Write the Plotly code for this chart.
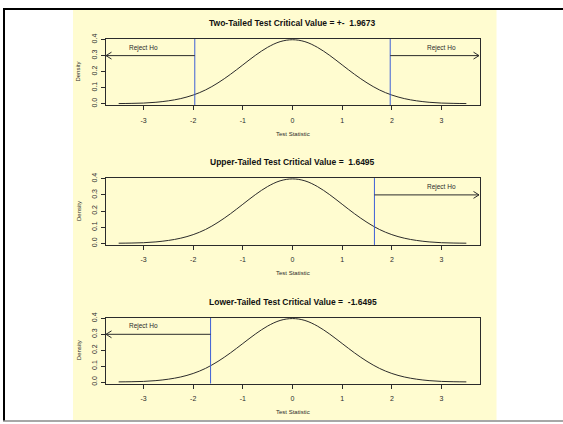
import plotly.graph_objects as go
from plotly.subplots import make_subplots

# ---- data ----
x_vals = [-3.5, -3.25, -3.0, -2.75, -2.5, -2.25, -2.0, -1.75, -1.5, -1.25, -1.0, -0.75, -0.5, -0.25,
          0.0, 0.25, 0.5, 0.75, 1.0, 1.25, 1.5, 1.75, 2.0, 2.25, 2.5, 2.75, 3.0, 3.25, 3.5]
density = [0.001, 0.002, 0.004, 0.009, 0.018, 0.032, 0.054, 0.086, 0.130, 0.183, 0.242, 0.301, 0.352, 0.387,
           0.399, 0.387, 0.352, 0.301, 0.242, 0.183, 0.130, 0.086, 0.054, 0.032, 0.018, 0.009, 0.004, 0.002, 0.001]

titles = ["Two-Tailed Test Critical Value = +-\u00a0 1.9673",
          "Upper-Tailed Test Critical Value =\u00a0 1.6495",
          "Lower-Tailed Test Critical Value =\u00a0 -1.6495"]
# critical values per panel and reject direction (+1 right, -1 left)
crit_lines = [[-1.9673, 1.9673], [1.6495], [-1.6495]]
reject_dirs = [[-1, 1], [1], [-1]]
reject_label = "Reject Ho"
arrow_y = 0.3
label_y = 0.35
label_x = 3.0

x_ticks = [-3, -2, -1, 0, 1, 2, 3]
x_ticktext = ["-3", "-2", "-1", "0", "1", "2", "3"]
y_ticks = [0.0, 0.1, 0.2, 0.3, 0.4]
y_ticktext = ["0.0", "0.1", "0.2", "0.3", "0.4"]
x_title = "Test Statistic"
y_title = "Density"

W, H = 563, 424
XR = [-3.765, 3.765]
YR = [-0.010, 0.404]
YELLOW = "#FFFCD0"
INK = "#2b2b2b"
BLUE = "#3d5fd6"
FONT = "Liberation Sans, Arial, sans-serif"

# panel boxes in pixels (top, bottom)
boxes = [(34.5, 102.0), (176.0, 244.0), (318.0, 385.0)]
box_l, box_r = 105.5, 479.5

fig = make_subplots(rows=3, cols=1)

def py(p):
    return 1 - p / H

def pxx(p):
    return p / W

ax_px = (box_r - box_l) / (XR[1] - XR[0])
for i, (t, b) in enumerate(boxes):
    r = i + 1
    yr_px = (b - t) / (YR[1] - YR[0])
    fig.add_trace(go.Scatter(x=x_vals, y=density, mode="lines", line=dict(color=INK, width=1, shape="spline"),
                             showlegend=False, hoverinfo="skip"), row=r, col=1)
    for c, d in zip(crit_lines[i], reject_dirs[i]):
        fig.add_trace(go.Scatter(x=[c, c], y=YR, mode="lines", line=dict(color=BLUE, width=1),
                                 showlegend=False, hoverinfo="skip"), row=r, col=1)
        end = XR[1] - 0.01 if d > 0 else XR[0] + 0.01
        fig.add_trace(go.Scatter(x=[c, end], y=[arrow_y, arrow_y], mode="lines", line=dict(color=INK, width=1),
                                 showlegend=False, hoverinfo="skip"), row=r, col=1)
        hx = 5.5 / ax_px
        hy = 3.5 / yr_px
        fig.add_trace(go.Scatter(x=[end - d * hx, end, end - d * hx], y=[arrow_y + hy, arrow_y, arrow_y - hy],
                                 mode="lines", line=dict(color=INK, width=1),
                                 showlegend=False, hoverinfo="skip"), row=r, col=1)
        fig.add_annotation(x=d * label_x, y=label_y, text=reject_label, showarrow=False,
                           xref=f"x{r}" if r > 1 else "x", yref=f"y{r}" if r > 1 else "y",
                           font=dict(size=6.5, color=INK, family=FONT), yanchor="middle")
    fig.update_xaxes(row=r, col=1, range=XR, domain=[pxx(box_l), pxx(box_r)], tickvals=x_ticks, ticktext=x_ticktext,
                     showline=True, mirror=True, linecolor=INK, linewidth=1, ticks="outside", ticklen=4,
                     tickcolor=INK, showgrid=False, zeroline=False, tickfont=dict(size=7, color=INK, family=FONT),
                     ticklabelstandoff=4)
    fig.update_yaxes(row=r, col=1, range=YR, domain=[py(b), py(t)], tickvals=y_ticks, ticktext=y_ticktext,
                     showline=True, mirror=True, linecolor=INK, linewidth=1, ticks="outside", ticklen=4,
                     tickcolor=INK, showgrid=False, zeroline=False, tickangle=-90,
                     tickfont=dict(size=7, color=INK, family=FONT), ticklabelstandoff=1)
    # title
    fig.add_annotation(x=pxx((box_l + box_r) / 2), y=py(t - 16), xref="paper", yref="paper", text=f"<b>{titles[i]}</b>",
                       showarrow=False, font=dict(size=8.5, color="#111", family=FONT), yanchor="middle")
    fig.add_annotation(x=pxx((box_l + box_r) / 2), y=py(b + 29), xref="paper", yref="paper", text=x_title,
                       showarrow=False, font=dict(size=6, color=INK, family=FONT), yanchor="middle")
    fig.add_annotation(x=pxx(78.5), y=py((t + b) / 2), xref="paper", yref="paper", text=y_title, textangle=-90,
                       showarrow=False, font=dict(size=6, color=INK, family=FONT), xanchor="center", yanchor="middle")

shapes = [
    dict(type="rect", xref="paper", yref="paper", x0=pxx(73), x1=pxx(496.5), y0=py(422), y1=py(4),
         fillcolor=YELLOW, line=dict(width=0), layer="below"),
    dict(type="line", xref="paper", yref="paper", x0=pxx(3), x1=1, y0=py(4), y1=py(4), line=dict(color="black", width=2)),
    dict(type="line", xref="paper", yref="paper", x0=pxx(4), x1=pxx(4), y0=py(3), y1=py(423), line=dict(color="black", width=2)),
    dict(type="line", xref="paper", yref="paper", x0=pxx(3), x1=1, y0=py(423), y1=py(423), line=dict(color="#8a8a8a", width=1.5)),
]
fig.update_layout(width=W, height=H, margin=dict(l=0, r=0, t=0, b=0), paper_bgcolor="white",
                  plot_bgcolor="rgba(0,0,0,0)", shapes=shapes, showlegend=False)

fig.write_html("out.html", config={"displayModeBar": False, "staticPlot": True},
               post_script="document.body.style.margin='0px';document.body.style.overflow='hidden';")
